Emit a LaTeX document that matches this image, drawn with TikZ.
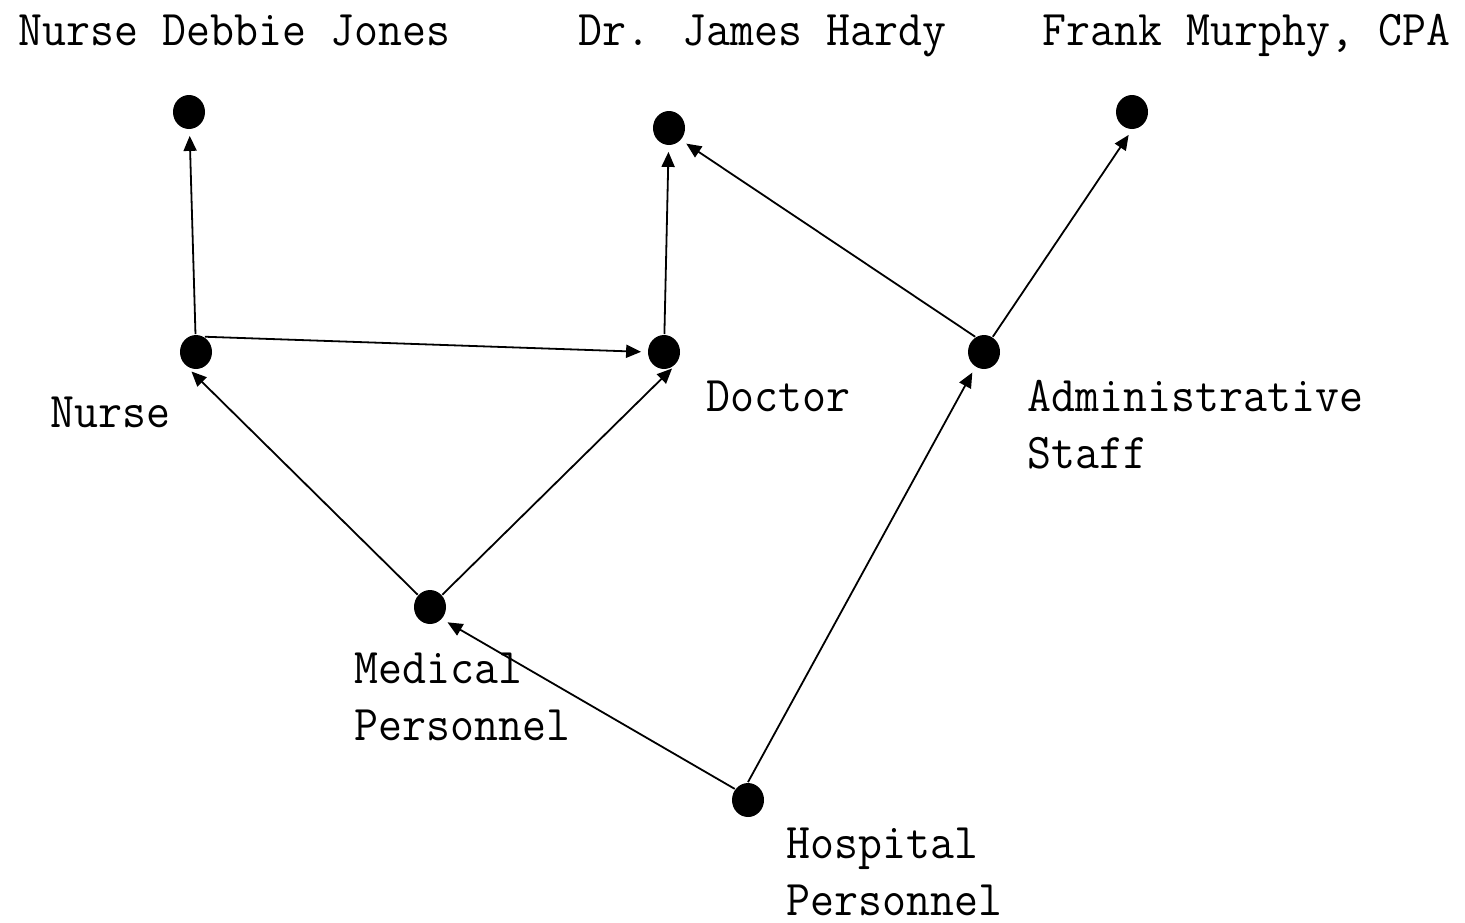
\documentclass[tikz,border=0pt]{standalone}
\usepackage{fontspec}
\usepackage{xcolor}
\usetikzlibrary{positioning}
\usetikzlibrary{arrows.meta}
\usetikzlibrary{shapes.geometric}
\usetikzlibrary{calc}
\newfontfamily\lblfont[FakeStretch=0.93]{Latin Modern Mono}

\begin{document}
\begin{tikzpicture}[x=0.5pt,y=-0.5pt,>={Triangle[length=7.5pt,width=6.5pt]},shorten >=3pt,
                    line width=0.9pt,dot node/.style={ellipse,fill,minimum width=16pt,minimum height=17pt,inner sep=0pt},
                    name node/.style={anchor=base west,inner sep=0pt,align=left,font=\lblfont\fontsize{25}{28.5}\selectfont}]
      \useasboundingbox (0,0) rectangle (1465,922);

      \node[dot node] (jones) at (189,112) {};
      \node[dot node] (hardy) at (669,128) {};
      \node[dot node] (murphy) at (1132,112) {};
      \node[dot node] (nurse) at (196,352) {};
      \node[dot node] (doctor) at (664,352) {};
      \node[dot node] (admin) at (984,352) {};
      \node[dot node] (medical) at (430,607) {};
      \node[dot node] (hospital) at (748,800) {};

      \node[name node] (jonesl) at (18,45) {Nurse Debbie Jones};
      \node[name node] (hardyl) at (578,45) {Dr. James Hardy};
      \node[name node] (murphyl) at (1042,45) {Frank Murphy, CPA};
      \node[name node] (nursel) at (50,427) {Nurse};
      \node[name node] (doctorl) at (706,411) {Doctor};
      \node[name node] (adminl) at (1027,468) {Administrative\\Staff};
      \node[name node] (medicall) at (354,740) {Medical\\Personnel};
      \node[name node] (hospitall) at (786,915) {Hospital\\Personnel};

      \path[->]
	(nurse) edge (jones)
	(nurse.60) edge (doctor.west)
	(medical.135) edge (nurse.240)
	(medical.45) edge (doctor.-45)
	(doctor) edge (hardy)
	(admin.120) edge (hardy.-45)
	(admin.60) edge (murphy.south)
	(hospital.140) edge (medical.-45)
	(hospital.north) edge (admin.240);

    \end{tikzpicture}
\end{document}
